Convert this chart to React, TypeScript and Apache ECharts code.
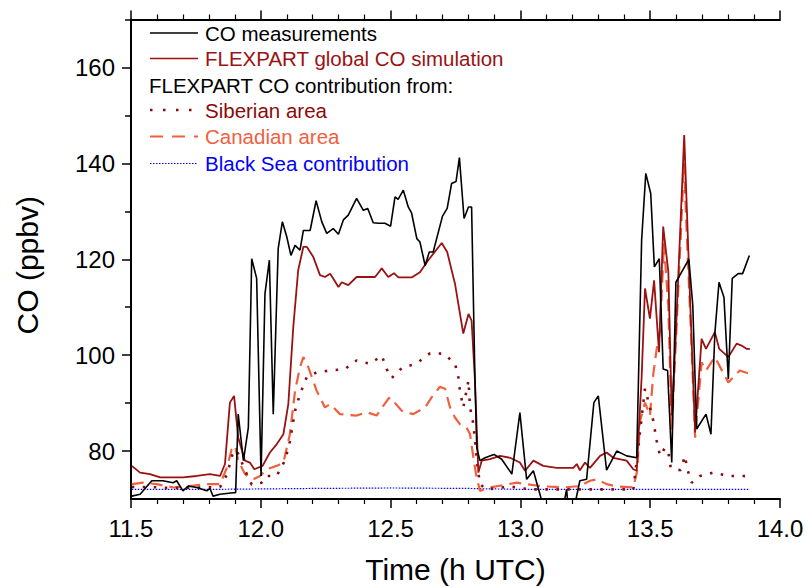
import React, { useEffect, useRef } from "react";
import * as echarts from "echarts";

// ---- data: [time (h UTC), CO (ppbv)] ----
const coMeasurements: number[][] = [
  [11.503, 70.6], [11.535, 71], [11.58, 73.8], [11.623, 73.8], [11.662, 73.4], [11.676, 73.8],
  [11.7, 71.7], [11.72, 72.7], [11.753, 72.4], [11.792, 71.7], [11.804, 72.2], [11.816, 70.6],
  [11.843, 71], [11.893, 71.3], [11.903, 71.3], [11.913, 87.7], [11.933, 78], [11.952, 84.9],
  [11.965, 120.1], [11.984, 116], [12.001, 74.8], [12.016, 112.8], [12.033, 119.8], [12.048, 87.7],
  [12.067, 122.2], [12.083, 127.8], [12.1, 124.7], [12.116, 120.8], [12.132, 122.9], [12.151, 121.9],
  [12.164, 126], [12.19, 126], [12.213, 132.2], [12.235, 127.8], [12.254, 125.4], [12.279, 126.4],
  [12.299, 125.2], [12.318, 128.2], [12.337, 129.2], [12.369, 132.7], [12.395, 130.2], [12.412, 130.6],
  [12.433, 127.6], [12.453, 127.5], [12.478, 127.5], [12.5, 126.9], [12.517, 133], [12.529, 132.5],
  [12.549, 134.4], [12.568, 130.9], [12.581, 129.6], [12.601, 124.3], [12.613, 123.6], [12.633, 118.7],
  [12.649, 121.5], [12.664, 121.5], [12.7, 129], [12.718, 130.6], [12.735, 135.8], [12.752, 136.2],
  [12.765, 141.2], [12.783, 128.5], [12.8, 130.9], [12.812, 130.9], [12.825, 94.7], [12.832, 80.7],
  [12.844, 78], [12.864, 78.6], [12.898, 79.3], [12.928, 78.3], [12.967, 75.2], [12.998, 88],
  [13.024, 74.1], [13.05, 75.9], [13.101, 66], [13.153, 65], [13.178, 72], [13.191, 64],
  [13.229, 73.8], [13.255, 74.1], [13.283, 90.1], [13.3, 91.5], [13.332, 76], [13.371, 80],
  [13.409, 79], [13.448, 78.6], [13.467, 124], [13.483, 137.9], [13.502, 133.7], [13.516, 118.4],
  [13.535, 120.1], [13.55, 97.1], [13.567, 96.8], [13.583, 77.6], [13.599, 115.2], [13.621, 117.3],
  [13.649, 120], [13.664, 110.4], [13.679, 84.6], [13.715, 87.7], [13.734, 83.5], [13.749, 104.5],
  [13.765, 115.2], [13.784, 112.1], [13.801, 95], [13.816, 116], [13.839, 117], [13.856, 117],
  [13.882, 120.8],
];

const flexpartGlobal: number[][] = [
  [11.503, 76.9], [11.535, 75.5], [11.573, 75.2], [11.612, 74.5], [11.701, 74.5], [11.753, 74.8],
  [11.804, 75.2], [11.843, 74.8], [11.862, 77.3], [11.881, 90.1], [11.897, 91.5], [11.913, 82.8],
  [11.939, 78], [11.958, 77.6], [11.975, 76.2], [12.007, 76.9], [12.035, 79.7], [12.061, 81.4],
  [12.087, 83.5], [12.106, 89.8], [12.125, 105.8], [12.144, 117.7], [12.164, 122.6], [12.177, 122.6],
  [12.202, 120.5], [12.228, 116.7], [12.247, 116.3], [12.267, 117], [12.279, 116], [12.299, 114.2],
  [12.312, 115.2], [12.337, 114.6], [12.369, 116.3], [12.414, 116.3], [12.44, 116.3], [12.466, 118.1],
  [12.491, 116.3], [12.513, 117.1], [12.53, 116.2], [12.581, 116.2], [12.613, 117.3], [12.645, 119.8],
  [12.697, 123.4], [12.718, 121.5], [12.748, 114.9], [12.78, 104.5], [12.8, 108.6], [12.812, 107.2],
  [12.825, 94.7], [12.838, 75.5], [12.851, 78], [12.883, 78.3], [12.921, 79], [12.96, 78.6],
  [12.998, 77.6], [13.018, 75.9], [13.05, 78], [13.088, 76.9], [13.14, 76.5], [13.204, 76.5],
  [13.217, 77.3], [13.229, 76], [13.249, 77.6], [13.268, 76.5], [13.307, 79], [13.332, 79.7],
  [13.358, 78.6], [13.409, 78], [13.435, 76.2], [13.448, 75.9], [13.467, 95.4], [13.48, 113.9],
  [13.499, 107.6], [13.515, 115.6], [13.534, 100.6], [13.55, 126.8], [13.57, 117.3], [13.583, 87.4],
  [13.599, 104.5], [13.631, 145.9], [13.653, 112.5], [13.673, 83.9], [13.698, 103.4], [13.715, 101.3],
  [13.749, 104.8], [13.766, 101.3], [13.801, 99.6], [13.833, 102.4], [13.852, 102], [13.872, 101.3],
  [13.884, 101.3],
];

const siberianArea: number[][] = [
  [11.503, 72.5], [11.573, 72.5], [11.65, 72.3], [11.766, 72.4], [11.843, 72.5], [11.869, 75],
  [11.893, 79.7], [11.907, 80.2], [11.939, 76], [11.965, 73], [12.003, 73.4], [12.023, 74.8],
  [12.061, 74.8], [12.093, 78], [12.112, 82], [12.132, 88.4], [12.151, 91.9], [12.177, 95.4],
  [12.215, 96.4], [12.267, 96.8], [12.324, 97.1], [12.369, 98.9], [12.421, 98.2], [12.466, 99.9],
  [12.485, 97.1], [12.504, 95.2], [12.543, 97.3], [12.601, 98.3], [12.652, 100.4], [12.703, 100.3],
  [12.748, 98.3], [12.761, 95.4], [12.767, 92.6], [12.78, 89.1], [12.8, 94.7], [12.806, 89.1],
  [12.819, 85.6], [12.825, 82.1], [12.832, 78], [12.844, 73.1], [12.87, 72], [12.96, 72.6],
  [13.037, 72], [13.2, 72], [13.435, 72], [13.454, 80.7], [13.467, 87], [13.48, 93],
  [13.499, 89.1], [13.512, 86.3], [13.525, 82.1], [13.538, 79], [13.557, 80.7], [13.57, 79.7],
  [13.579, 76.5], [13.617, 76], [13.634, 79], [13.643, 76.2], [13.66, 73.4], [13.692, 74.8],
  [13.743, 75.5], [13.801, 74.8], [13.859, 74.8], [13.884, 74.7],
];

const canadianArea: number[][] = [
  [11.503, 73.1], [11.547, 73.4], [11.599, 73.1], [11.663, 72.4], [11.727, 72.7], [11.792, 73.1],
  [11.843, 73.1], [11.869, 76.5], [11.888, 80.4], [11.901, 81.1], [11.913, 78], [11.939, 75.2],
  [11.971, 74.1], [11.997, 74.8], [12.023, 76.2], [12.061, 76.9], [12.087, 77.6], [12.112, 83.5],
  [12.132, 92.6], [12.151, 97.5], [12.164, 99.6], [12.183, 97.5], [12.215, 92.6], [12.247, 89.1],
  [12.267, 89.8], [12.305, 87.7], [12.369, 87.4], [12.408, 88.1], [12.446, 87.4], [12.491, 90.9],
  [12.498, 91.2], [12.543, 88.4], [12.587, 87.7], [12.633, 89.1], [12.658, 91.2], [12.69, 93.4],
  [12.71, 93], [12.729, 89.1], [12.748, 87], [12.767, 85.6], [12.793, 84.9], [12.806, 83.5],
  [12.819, 78.6], [12.829, 75.2], [12.844, 71.7], [12.883, 72.4], [12.986, 73.4], [13.076, 72.7],
  [13.165, 72.4], [13.229, 72.7], [13.268, 73.8], [13.294, 74.1], [13.332, 73.1], [13.371, 72.6],
  [13.435, 72.4], [13.45, 75.9], [13.461, 86.3], [13.48, 90.1], [13.499, 87.4], [13.512, 96.1],
  [13.525, 101.3], [13.538, 105.1], [13.553, 123.3], [13.57, 110], [13.583, 84.2], [13.599, 103],
  [13.617, 124], [13.63, 140], [13.643, 122.6], [13.66, 101], [13.673, 82.8], [13.698, 98.5],
  [13.715, 96.8], [13.749, 99.6], [13.801, 94.3], [13.845, 96.8], [13.884, 96.1],
];

const blackSea: number[][] = [
  [11.503, 72], [11.8, 72], [12.2, 72.2], [12.5, 72.3], [12.8, 72.2], [13.0, 72], [13.4, 72], [13.884, 72],
];

const yLabelValues = [80, 100, 120, 140, 160];
const yMinorValues = [90, 110, 130, 150, 170];

const legendLabels = [
  "CO measurements",
  "FLEXPART global CO simulation",
  "FLEXPART CO contribution from:",
  "Siberian area",
  "Canadian area",
  "Black Sea contribution",
];

const FONT = '"Liberation Sans", Arial, Helvetica, sans-serif';
const C_BLACK = "#000000";
const C_DARKRED = "#9a1212";
const C_SIB = "#8b0a0a";
const C_CAN = "#f0603e";
const C_BLUE = "#0000ff";

export default function App() {
  const ref = useRef<HTMLDivElement>(null);

  useEffect(() => {
    if (!ref.current) return;
    const chart = echarts.init(ref.current, undefined, { renderer: "svg" });

    const legendRows = [
      { y: 33, color: C_BLACK, line: { stroke: C_BLACK, lineWidth: 1.6 } },
      { y: 58.5, color: C_DARKRED, line: { stroke: C_DARKRED, lineWidth: 1.6 } },
      { y: 85, color: C_BLACK, line: null },
      { y: 110, color: C_SIB, line: { stroke: C_SIB, lineWidth: 2.5, lineDash: [2.5, 10.5] } },
      { y: 136.5, color: C_CAN, line: { stroke: C_CAN, lineWidth: 2, lineDash: [13, 9] } },
      { y: 163.5, color: C_BLUE, line: { stroke: C_BLUE, lineWidth: 1, lineDash: [1.5, 1.5] } },
    ];

    const graphics: any[] = [];
    legendRows.forEach((r, i) => {
      if (r.line) {
        graphics.push({
          type: "line",
          shape: { x1: 150, y1: r.y, x2: 198, y2: r.y },
          style: { ...r.line, fill: null },
          silent: true,
        });
      }
      graphics.push({
        type: "text",
        x: r.line ? 205 : 149,
        y: r.y,
        style: {
          text: legendLabels[i],
          fill: r.color,
          fontSize: 20.5,
          fontFamily: FONT,
          verticalAlign: "middle",
          align: "left",
        },
        silent: true,
      });
    });

    const axisCommon = {
      type: "value" as const,
      min: 11.5,
      max: 14.0,
      interval: 0.5,
      splitLine: { show: false },
      axisLine: { show: true, onZero: false, lineStyle: { color: "#000", width: 2 } },
      axisTick: { show: true, inside: false, length: 9, lineStyle: { color: "#000", width: 1.5 } },
      minorTick: { show: true, splitNumber: 5, length: 5, lineStyle: { color: "#000", width: 1.2 } },
      minorSplitLine: { show: false },
    };

    const option: any = {
      animation: false,
      backgroundColor: "#ffffff",
      grid: {
        left: 131,
        right: 28,
        top: 19.5,
        bottom: 88,
        containLabel: false,
        outerBoundsMode: "none",
      },
      xAxis: [
        {
          ...axisCommon,
          position: "bottom",
          name: "Time (h UTC)",
          nameLocation: "middle",
          nameGap: 55,
          nameTextStyle: { fontSize: 30, fontFamily: FONT, color: "#000" },
          axisLabel: {
            show: true,
            fontSize: 24,
            fontFamily: FONT,
            color: "#000",
            margin: 17,
            formatter: (v: number) => v.toFixed(1),
          },
        },
        {
          ...axisCommon,
          position: "top",
          axisLabel: { show: false },
        },
      ],
      yAxis: [
        {
          type: "value",
          min: 70,
          max: 170,
          position: "left",
          name: "CO (ppbv)",
          nameLocation: "middle",
          nameGap: 89,
          nameTextStyle: { fontSize: 30, fontFamily: FONT, color: "#000", padding: [0, 12, 0, 0] },
          splitLine: { show: false },
          axisLine: { show: true, onZero: false, lineStyle: { color: "#000", width: 2 } },
          axisTick: {
            show: true,
            inside: false,
            length: 9,
            customValues: yLabelValues,
            lineStyle: { color: "#000", width: 1.5 },
          },
          axisLabel: {
            show: true,
            fontSize: 24,
            fontFamily: FONT,
            color: "#000",
            margin: 16,
            customValues: yLabelValues,
          },
        },
        {
          type: "value",
          min: 70,
          max: 170,
          position: "left",
          splitLine: { show: false },
          axisLine: { show: false },
          axisLabel: { show: false },
          axisTick: {
            show: true,
            inside: false,
            length: 6,
            customValues: yMinorValues,
            lineStyle: { color: "#000", width: 1.5 },
          },
        },
      ],
      series: [
        {
          name: "Black Sea contribution",
          type: "line",
          data: blackSea,
          showSymbol: false,
          clip: true,
          lineStyle: { color: C_BLUE, width: 1.2, type: [1.5, 1.5] },
          z: 2,
        },
        {
          name: "Canadian area",
          type: "line",
          data: canadianArea,
          showSymbol: false,
          clip: true,
          lineStyle: { color: C_CAN, width: 2.2, type: [12, 7] },
          z: 3,
        },
        {
          name: "Siberian area",
          type: "line",
          data: siberianArea,
          showSymbol: false,
          clip: true,
          lineStyle: { color: C_SIB, width: 2.6, type: [2.5, 8.5] },
          z: 4,
        },
        {
          name: "FLEXPART global CO simulation",
          type: "line",
          data: flexpartGlobal,
          showSymbol: false,
          clip: true,
          lineStyle: { color: C_DARKRED, width: 1.8 },
          z: 5,
        },
        {
          name: "CO measurements",
          type: "line",
          data: coMeasurements,
          showSymbol: false,
          clip: true,
          lineStyle: { color: C_BLACK, width: 1.6 },
          z: 6,
        },
      ],
      graphic: graphics,
    };

    chart.setOption(option);
    return () => chart.dispose();
  }, []);

  return (
    <div
      ref={ref}
      style={{ position: "fixed", left: 0, top: 0, width: 808, height: 587, background: "#fff" }}
    />
  );
}
